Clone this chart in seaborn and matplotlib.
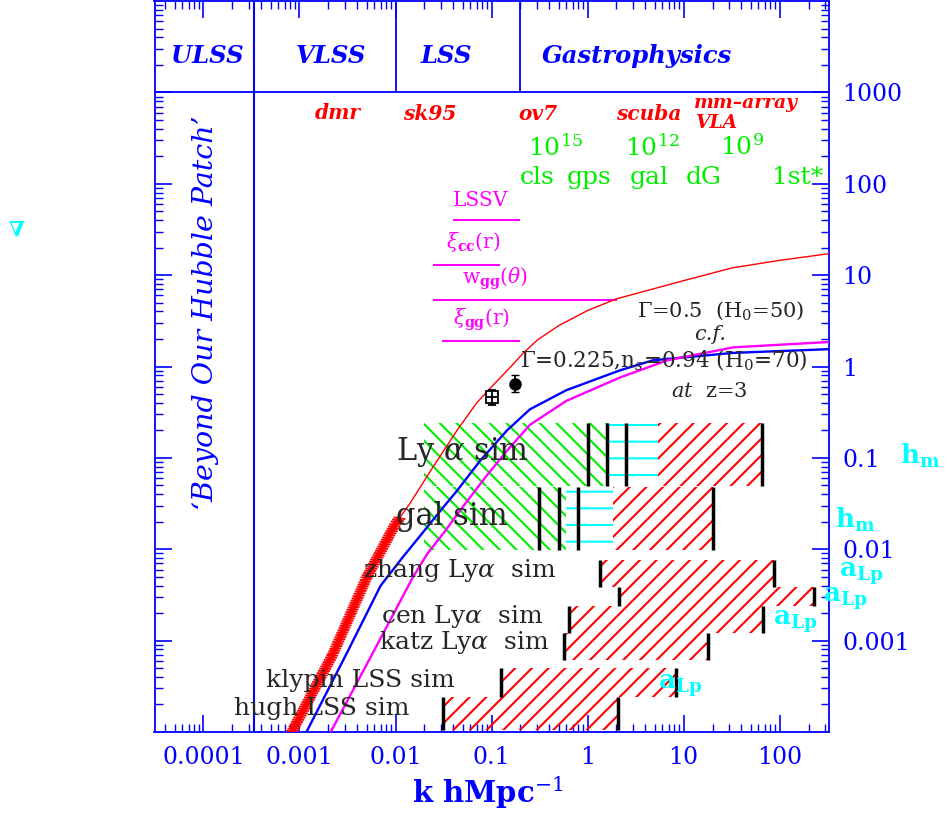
import matplotlib
matplotlib.use("Agg")
import matplotlib.pyplot as plt
import matplotlib.patheffects as pe
from matplotlib.patches import Rectangle
import pandas as pd
import seaborn as sns

# ── Data ──────────────────────────────────────────────────────────────────────
# Gamma = 0.5 (H0=50) curve
red_k = [8.3e-4, 2.24e-3, 5.0e-3, 0.010, 0.0141, 0.0245, 0.0437, 0.070, 0.100,
         0.145, 0.214, 0.30, 0.50, 1.0, 2.0, 10, 32, 100, 330]
red_p = [1.0e-4, 7.2e-4, 4.9e-3, 0.019, 0.0316, 0.079, 0.20, 0.40, 0.60,
         0.90, 1.40, 1.95, 2.8, 4.1, 5.5, 8.7, 12.0, 14.5, 17.2]
# thick band of large-scale data on the red curve
band_k = [8.3e-4, 2.24e-3, 5.0e-3, 0.010, 0.0112]
band_p = [1.0e-4, 7.2e-4, 4.9e-3, 0.019, 0.0224]
# Gamma = 0.225, ns = 0.94 (H0=70)
blue_k = [1.17e-3, 3.09e-3, 7.0e-3, 0.0118, 0.0190, 0.0290, 0.0437, 0.076,
          0.145, 0.251, 0.60, 2.19, 4.8, 33, 340]
blue_p = [9.8e-5, 7.2e-4, 4.0e-3, 8.1e-3, 0.0150, 0.026, 0.0437, 0.093,
          0.200, 0.340, 0.55, 0.91, 1.17, 1.41, 1.55]
# at z = 3
mag_k = [2.09e-3, 5.75e-3, 0.0151, 0.0214, 0.0316, 0.050, 0.089, 0.145,
         0.251, 0.60, 2.19, 6.8, 33, 340]
mag_p = [9.8e-5, 7.2e-4, 4.9e-3, 8.9e-3, 0.0150, 0.0290, 0.064, 0.120,
         0.23, 0.42, 0.76, 1.17, 1.62, 1.86]

# two measured points
pt_k = [0.1, 0.175]
pt_p = [0.46, 0.65]
pt_lo = [0.375, 0.52]
pt_hi = [0.547, 0.80]

# survey ranges (magenta bars)
survey_names = ["LSSV", r"$\xi_{\mathbf{cc}}$(r)", r"w$_{\mathbf{gg}}(\theta)$", r"$\xi_{\mathbf{gg}}$(r)"]
survey_kmin = [0.0396, 0.0245, 0.0245, 0.0304]
survey_kmax = [0.198, 0.122, 2.02, 0.198]
survey_p = [40.4, 12.9, 5.39, 1.89]

# big simulation blocks: green / cyan / red parts
block_names = [r"Ly $\alpha$ sim", "gal sim"]
block_lo = [0.049, 0.0098]
block_hi = [0.238, 0.048]
block_green = [(0.02, 1.65), (0.02, 0.6)]
block_cyan = [(1.65, 5.4), (0.6, 1.84)]
block_red = [(5.4, 66), (1.84, 20)]
block_bars = [[1.0, 1.6, 2.5, 66], [0.31, 0.5, 0.8, 20]]

# smaller simulations
sim_names = [r"zhang Ly$\alpha$  sim", "", r"cen Ly$\alpha$  sim",
             r"katz Ly$\alpha$  sim", "klypin LSS sim", "hugh LSS sim"]
sim_kmin = [1.35, 2.12, 0.64, 0.57, 0.125, 0.031]
sim_kmax = [87, 227, 67, 17.9, 8.3, 2.07]
sim_lo = [0.00385, 0.00238, 0.00121, 0.00061, 0.00024, 0.000105]
sim_hi = [0.0076, 0.00385, 0.00238, 0.00121, 0.0005, 0.00024]

# regime boundaries
regime_k = [1 / 3000, 0.01, 0.2]
regime_names = ["ULSS", "VLSS", "LSS", "Gastrophysics"]

xtick_vals = [1e-4, 1e-3, 1e-2, 0.1, 1, 10, 100]
xtick_labels = ["0.0001", "0.001", "0.01", "0.1", "1", "10", "100"]
ytick_vals = [1e-3, 1e-2, 0.1, 1, 10, 100, 1000]
ytick_labels = ["0.001", "0.01", "0.1", "1", "10", "100", "1000"]

# ── Style ─────────────────────────────────────────────────────────────────────
W, H = 947, 816
BLUE, RED, GREEN = "#0000ff", "#ff0000", "#00ee00"
CYAN, MAG = "#00ffff", "#ff00ff"

sns.set_theme(style="white")
plt.rcParams.update({
    "font.family": ["DejaVu Serif"],
    "mathtext.fontset": "dejavuserif",
    "hatch.linewidth": 1.5,
})

fig = plt.figure(figsize=(W / 100, H / 100), dpi=100)
ax = fig.add_axes([154.5 / W, 1 - 732 / H, (828.6 - 154.5) / W, 731 / H])
ax.set_xscale("log")
ax.set_yscale("log")
ax.set_xlim(10 ** -4.51, 10 ** 2.51)
ax.set_ylim(1e-4, 1e4)


def ftext(x, y, s, **kw):
    """text placed in reference pixel coordinates"""
    kw.setdefault("ha", "center")
    kw.setdefault("va", "center")
    fig.text(x / W, 1 - y / H, s, **kw)


# ── Curves ────────────────────────────────────────────────────────────────────
curves = pd.concat([
    pd.DataFrame({"k": red_k, "p": red_p, "model": "red"}),
    pd.DataFrame({"k": blue_k, "p": blue_p, "model": "blue"}),
    pd.DataFrame({"k": mag_k, "p": mag_p, "model": "mag"}),
])
for name, col, lw in [("red", RED, 1.0), ("blue", BLUE, 1.7), ("mag", MAG, 1.7)]:
    sub = curves[curves["model"] == name]
    sns.lineplot(data=sub, x="k", y="p", sort=False, estimator=None,
                 color=col, lw=lw, ax=ax, zorder=4)

ax.plot(band_k, band_p, color=RED, lw=4, zorder=5, solid_capstyle="butt",
        path_effects=[pe.TickedStroke(angle=-63, spacing=1.8, length=2.4, linewidth=1.3, foreground=RED),
                      pe.TickedStroke(angle=117, spacing=1.8, length=2.4, linewidth=1.3, foreground=RED),
                      pe.Normal()])

# data points
ax.errorbar(pt_k[:1], pt_p[:1], yerr=[[pt_p[0] - pt_lo[0]], [pt_hi[0] - pt_p[0]]],
            fmt="s", ms=8, mfc="white", mec="black", mew=1.3, ecolor="black",
            elinewidth=1.3, capsize=3, zorder=6)
ax.plot(pt_k[:1], pt_p[:1], marker="+", ms=8, mew=1.3, color="black", zorder=7)
ax.errorbar(pt_k[1:], pt_p[1:], yerr=[[pt_p[1] - pt_lo[1]], [pt_hi[1] - pt_p[1]]],
            fmt="o", ms=8, color="black", elinewidth=1.3, capsize=3, zorder=6)

# survey bars
ax.hlines(survey_p, survey_kmin, survey_kmax, color=MAG, lw=1.5)
survey_pos = [(481, 200), (473, 242), (495, 279), (482, 320)]
for name, (x, y) in zip(survey_names, survey_pos):
    ftext(x, y, name, color=MAG, fontsize=14.5)


def hatch_box(k0, k1, y0, y1, col, hatch):
    ax.add_patch(Rectangle((k0, y0), k1 - k0, y1 - y0, fill=False,
                           hatch=hatch, edgecolor=col, lw=0, zorder=2))


for i in range(len(block_names)):
    hatch_box(*block_green[i], block_lo[i], block_hi[i], GREEN, "\\\\")
    hatch_box(*block_cyan[i], block_lo[i], block_hi[i], CYAN, "-")
    hatch_box(*block_red[i], block_lo[i], block_hi[i], RED, "//")
    ax.vlines(block_bars[i], block_lo[i], block_hi[i], color="black", lw=2.5, zorder=3)
ftext(463, 452, block_names[0], fontsize=22)
ftext(452, 517, block_names[1], fontsize=22)

for i in range(len(sim_names)):
    hatch_box(sim_kmin[i], sim_kmax[i], sim_lo[i], sim_hi[i], RED, "//")
    ax.vlines([sim_kmin[i], sim_kmax[i]], sim_lo[i], sim_hi[i], color="black", lw=2.5, zorder=3)
sim_pos = [(460, 571), None, (462, 616), (464, 643), (360, 680), (322, 708)]
for name, pos in zip(sim_names, sim_pos):
    if pos:
        ftext(*pos, name, fontsize=18)

# ── Regime band at the top ────────────────────────────────────────────────────
ax.axhline(1000, color=BLUE, lw=1.3)
ax.axvline(regime_k[0], color=BLUE, lw=1.5)
ax.vlines(regime_k[1:], 1000, 1e4, color=BLUE, lw=1.3)
for name, x in zip(regime_names, [207, 331, 446, 637]):
    ftext(x, 56, name, color=BLUE, fontsize=17.5, style="italic", weight="bold")
ftext(205, 313, "\u2018Beyond Our Hubble Patch\u2019", color=BLUE, fontsize=20.5,
      style="italic", rotation=90)

# ── Labels ────────────────────────────────────────────────────────────────────
for s, x, y in [("dmr", 338, 113), ("sk95", 430, 114), ("ov7", 538, 114), ("scuba", 649, 114)]:
    ftext(x, y, s, color=RED, fontsize=14.5, style="italic", weight="bold")
ftext(746, 103, "mm\u2013array", color=RED, fontsize=13.5, style="italic", weight="bold")
ftext(717, 123, "VLA", color=RED, fontsize=13.5, style="italic", weight="bold")

for s, x in [("10$^{15}$", 556), ("10$^{12}$", 652), ("10$^{9}$", 742)]:
    ftext(x, 147, s, color=GREEN, fontsize=18)
for s, x in [("cls", 537), ("gps", 589), ("gal", 649), ("dG", 704), ("1st*", 798)]:
    ftext(x, 184, s, color=GREEN, fontsize=18, va="baseline")

ftext(721, 311, r"$\Gamma$=0.5  (H$_0$=50)", fontsize=15)
ftext(710, 335, "c.f.", fontsize=15, style="italic")
ftext(664, 360, r"$\Gamma$=0.225,n$_s$=0.94 (H$_0$=70)", fontsize=15.5)
ftext(709, 391, r"$at$  z=3", fontsize=15)

for s, x, y in [(r"$\mathbf{h_m}$", 920, 456), (r"$\mathbf{h_m}$", 855, 520),
                (r"$\mathbf{a_{Lp}}$", 861, 574), (r"$\mathbf{a_{Lp}}$", 845, 599),
                (r"$\mathbf{a_{Lp}}$", 795, 622), (r"$\mathbf{a_{Lp}}$", 680, 686)]:
    ftext(x, y, s, color=CYAN, fontsize=19)
ftext(16, 230, "\u2207", color=CYAN, fontsize=15, weight="bold")

ftext(488, 793, r"k hMpc$^{-1}$", color=BLUE, fontsize=21, weight="bold")

# ── Axes styling ──────────────────────────────────────────────────────────────
for sp in ax.spines.values():
    sp.set_color(BLUE)
    sp.set_linewidth(1.3)
ax.set_xticks(xtick_vals, xtick_labels)
ax.set_yticks(ytick_vals, ytick_labels)
ax.tick_params(which="both", direction="in", color=BLUE, top=True, bottom=True,
               left=True, right=True, labelleft=False, labelright=True,
               labelcolor=BLUE, labelsize=17)
ax.tick_params(which="major", length=12, width=1.2, pad=10)
ax.tick_params(which="minor", length=6, width=1.0)
ax.set_xlabel("")
ax.set_ylabel("")

fig.savefig("out.png", dpi=100)
